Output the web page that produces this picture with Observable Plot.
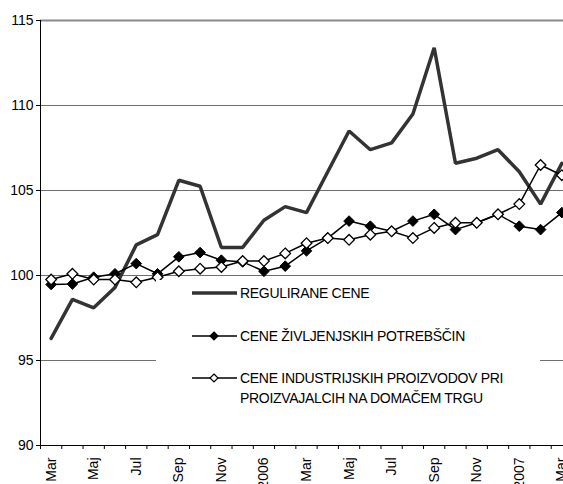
<!DOCTYPE html>
<html><head><meta charset="utf-8">
<script src="https://cdn.jsdelivr.net/npm/d3@7"></script>
<script src="https://cdn.jsdelivr.net/npm/@observablehq/plot@0.6"></script>
<style>
body{margin:0;background:#fff}
#chart svg{display:block}
</style></head><body><div id="chart"></div>
<script>
const months = ["Mar","Apr","Maj","Jun","Jul","Avg","Sep","Okt","Nov","Dec","2006","Feb","Mar","Apr","Maj","Jun","Jul","Avg","Sep","Okt","Nov","Dec","2007","Feb","Mar"];
const seriesNames = ["REGULIRANE CENE", "CENE ŽIVLJENJSKIH POTREBŠČIN", ["CENE INDUSTRIJSKIH PROIZVODOV PRI", "PROIZVAJALCIH NA DOMAČEM TRGU"]];
const regulirane = [96.3, 98.6, 98.1, 99.3, 101.8, 102.4, 105.6, 105.25, 101.65, 101.65, 103.25, 104.05, 103.7, 106.1, 108.5, 107.4, 107.8, 109.5, 113.4, 106.6, 106.9, 107.4, 106.1, 104.2, 106.6];
const zivljenjske = [99.47, 99.5, 99.9, 100.1, 100.7, 100.1, 101.1, 101.35, 100.9, 100.8, 100.25, 100.55, 101.45, 102.2, 103.2, 102.9, 102.6, 103.2, 103.6, 102.7, 103.1, 103.6, 102.9, 102.7, 103.7];
const industrijske = [99.76, 100.1, 99.76, 99.76, 99.6, 99.9, 100.25, 100.4, 100.5, 100.85, 100.85, 101.3, 101.9, 102.2, 102.1, 102.4, 102.6, 102.2, 102.8, 103.1, 103.1, 103.6, 104.2, 106.5, 105.9];
const yTicks = [90, 95, 100, 105, 110, 115];

const idx = months.map((_, i) => i);
const boundaries = d3.range(-0.5, months.length, 1);
const labelIdx = idx.filter(i => i % 2 === 0);
const rowsOf = arr => arr.map((v, i) => ({i, v}));

const chart = Plot.plot({
  width: 563, height: 484,
  marginLeft: 40, marginTop: 20, marginBottom: 39, marginRight: 0,
  style: {fontFamily: "'Liberation Sans', Arial, sans-serif", fontSize: "14px", background: "#fff", color: "#000", overflow: "hidden"},
  x: {type: "linear", domain: [-0.5, months.length - 0.5], range: [40, 572], axis: null},
  y: {domain: [90, 115], range: [445, 20], axis: null},
  marks: [
    Plot.ruleY(yTicks.filter(v => v > 90 && v < 115), {stroke: "#6e6e6e", strokeWidth: 1}),
    Plot.ruleY([115], {stroke: "#8a8a8a", strokeWidth: 2}),
    Plot.axisY({ticks: yTicks, tickSize: 4, tickPadding: 3, fontSize: 14, label: null, stroke: "#000"}),
    Plot.ruleX([-0.5], {stroke: "#000", strokeWidth: 1}),
    Plot.ruleY([90], {stroke: "#000", strokeWidth: 1}),
    Plot.axisX({ticks: boundaries, tickSize: 4, tickFormat: () => "", label: null, stroke: "#000"}),
    Plot.axisX({ticks: labelIdx, tickSize: 0, tickPadding: 12, tickRotate: -90, tickFormat: i => months[i], fontSize: 14, label: null}),
    Plot.line(rowsOf(regulirane), {x: "i", y: "v", stroke: "#333333", strokeWidth: 3.5, strokeLinejoin: "miter"}),
    Plot.line(rowsOf(zivljenjske), {x: "i", y: "v", stroke: "#000", strokeWidth: 1.5}),
    Plot.line(rowsOf(industrijske), {x: "i", y: "v", stroke: "#000", strokeWidth: 1.5}),
    Plot.dot(rowsOf(zivljenjske), {x: "i", y: "v", symbol: "diamond2", r: 4.8, fill: "#000", stroke: "#000", strokeWidth: 1}),
    Plot.dot(rowsOf(industrijske), {x: "i", y: "v", symbol: "diamond2", r: 4.8, fill: "#fff", stroke: "#000", strokeWidth: 1.3})
  ]
});
document.getElementById("chart").appendChild(chart);

// legend box
const svg = d3.select(chart);
const lg = svg.append("g").attr("font-family", "'Liberation Sans', Arial, sans-serif").attr("font-size", 14).attr("letter-spacing", "-0.3").attr("text-anchor", "start");
lg.append("rect").attr("x", 156).attr("y", 280).attr("width", 384).attr("height", 133).attr("fill", "#fff");
const rowsY = [293, 336, 378];
lg.append("line").attr("x1", 192).attr("x2", 237).attr("y1", rowsY[0]).attr("y2", rowsY[0]).attr("stroke", "#333").attr("stroke-width", 3.5);
[1, 2].forEach(k => {
  lg.append("line").attr("x1", 192).attr("x2", 237).attr("y1", rowsY[k]).attr("y2", rowsY[k]).attr("stroke", "#000").attr("stroke-width", 1.5);
  const s = 4;
  lg.append("path").attr("d", `M214,${rowsY[k]-s}L${214+s},${rowsY[k]}L214,${rowsY[k]+s}L${214-s},${rowsY[k]}Z`)
    .attr("fill", k === 1 ? "#000" : "#fff").attr("stroke", "#000").attr("stroke-width", 1.2);
});
seriesNames.forEach((name, k) => {
  const lines = Array.isArray(name) ? name : [name];
  lines.forEach((t, j) => {
    lg.append("text").attr("x", 240).attr("y", rowsY[k] + j * 20).attr("dy", "0.35em").attr("fill", "#000").attr("text-anchor", "start").text(t);
  });
});
</script>
</body></html>
